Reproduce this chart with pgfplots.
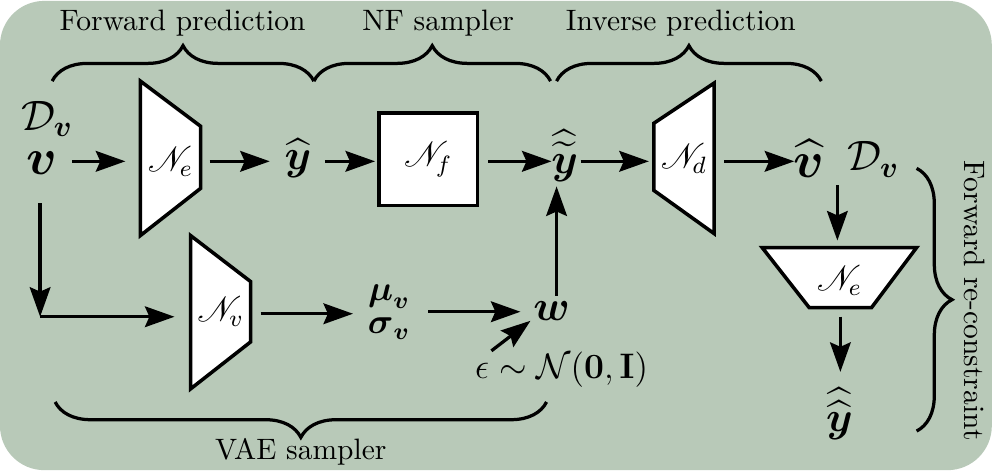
\documentclass[border=0pt]{standalone}
\usepackage{pgfplots}
\pgfplotsset{compat=1.18}
\usepackage{amsmath,amssymb,mathrsfs}
\usetikzlibrary{arrows.meta,decorations.pathreplacing}
\definecolor{bg}{RGB}{184,201,184}
\begin{document}
\begin{tikzpicture}[
    arr/.style={black, line width=1.1pt, -{Stealth[length=10pt,width=7pt,inset=1.5pt]}},
    blk/.style={black, fill=white, line width=1.2pt},
    brc/.style={black, line width=1.1pt, decorate, decoration={brace, amplitude=12pt}}
]
\begin{axis}[
    hide axis, scale only axis, clip=false,
    width=338pt, height=161pt,
    xmin=0, xmax=995, ymin=0, ymax=474, y dir=reverse
]
% background
\fill[bg, rounded corners=15pt] (axis cs:3,3) rectangle (axis cs:992,471);

% blocks (pixel coordinates, y downwards)
\addplot[blk] coordinates {(143,83) (203,128) (203,190) (143,237)} -- cycle;   % N_e
\addplot[blk] coordinates {(381,115) (479,115) (479,207) (381,207)} -- cycle;  % N_f
\addplot[blk] coordinates {(655,125) (715,85) (715,235) (655,192)} -- cycle;   % N_d
\addplot[blk] coordinates {(763,249) (917,249) (872,309) (810,309)} -- cycle;  % N_e again
\addplot[blk] coordinates {(193,237) (253,283) (253,343) (193,390)} -- cycle;  % N_v

\node at (axis cs:173,163) {\large $\mathscr{N}_e$};
\node at (axis cs:430,161) {\large $\mathscr{N}_f$};
\node at (axis cs:685,160) {\large $\mathscr{N}_d$};
\node at (axis cs:840,282) {\large $\mathscr{N}_e$};
\node at (axis cs:223,313) {\large $\mathscr{N}_v$};

% arrows
\addplot[arr] coordinates {(75,163) (128,163)};
\addplot[arr] coordinates {(212,163) (272,163)};
\addplot[arr] coordinates {(327,163) (377,163)};
\addplot[arr] coordinates {(490,163) (553,163)};
\addplot[arr] coordinates {(582,163) (650,163)};
\addplot[arr] coordinates {(725,163) (795,163)};
\addplot[arr] coordinates {(838,187) (838,242)};
\addplot[arr] coordinates {(841,318) (841,373)};
\addplot[arr] coordinates {(43,205) (43,318)};
\addplot[arr] coordinates {(43,318) (177,318)};
\addplot[arr] coordinates {(263,315) (355,315)};
\addplot[arr] coordinates {(430,313) (522,313)};
\addplot[arr] coordinates {(558,297) (558,188)};
\addplot[arr] coordinates {(493,352) (532,322)};

% variables
\node at (axis cs:50,121) {\Large $\mathcal{D}_{\boldsymbol{v}}$};
\node at (axis cs:45,165) {\LARGE $\boldsymbol{v}$};
\node at (axis cs:300,160) {\Large $\widehat{\boldsymbol{y}}$};
\node at (axis cs:566,157) {\Large $\widehat{\widetilde{\boldsymbol{y}}}$};
\node at (axis cs:810,160) {\LARGE $\widehat{\boldsymbol{v}}$};
\node at (axis cs:874,161) {\Large $\mathcal{D}_{\boldsymbol{v}}$};
\node at (axis cs:840,415) {\Large $\widehat{\widehat{\boldsymbol{y}}}$};
\node at (axis cs:391,298) {\large $\boldsymbol{\mu}_{\boldsymbol{v}}$};
\node at (axis cs:391,330) {\large $\boldsymbol{\sigma}_{\boldsymbol{v}}$};
\node at (axis cs:553,312) {\Large $\boldsymbol{w}$};
\node at (axis cs:563,371) {\large $\epsilon\sim\mathcal{N}(\mathbf{0},\mathbf{I})$};

% braces and their texts
\draw[brc] (axis cs:55,83) -- (axis cs:316,83);
\draw[brc] (axis cs:316,83) -- (axis cs:552,83);
\draw[brc] (axis cs:558,83) -- (axis cs:822,83);
\draw[brc] (axis cs:548,403) -- (axis cs:58,403);
\draw[brc] (axis cs:917,170) -- (axis cs:917,432);
\node at (axis cs:185,25) {Forward prediction};
\node at (axis cs:440,25) {NF sampler};
\node at (axis cs:682,25) {Inverse prediction};
\node at (axis cs:303,453) {VAE sampler};
\node[rotate=-90] at (axis cs:975,302) {Forward re-constraint};
\end{axis}
\end{tikzpicture}
\end{document}
